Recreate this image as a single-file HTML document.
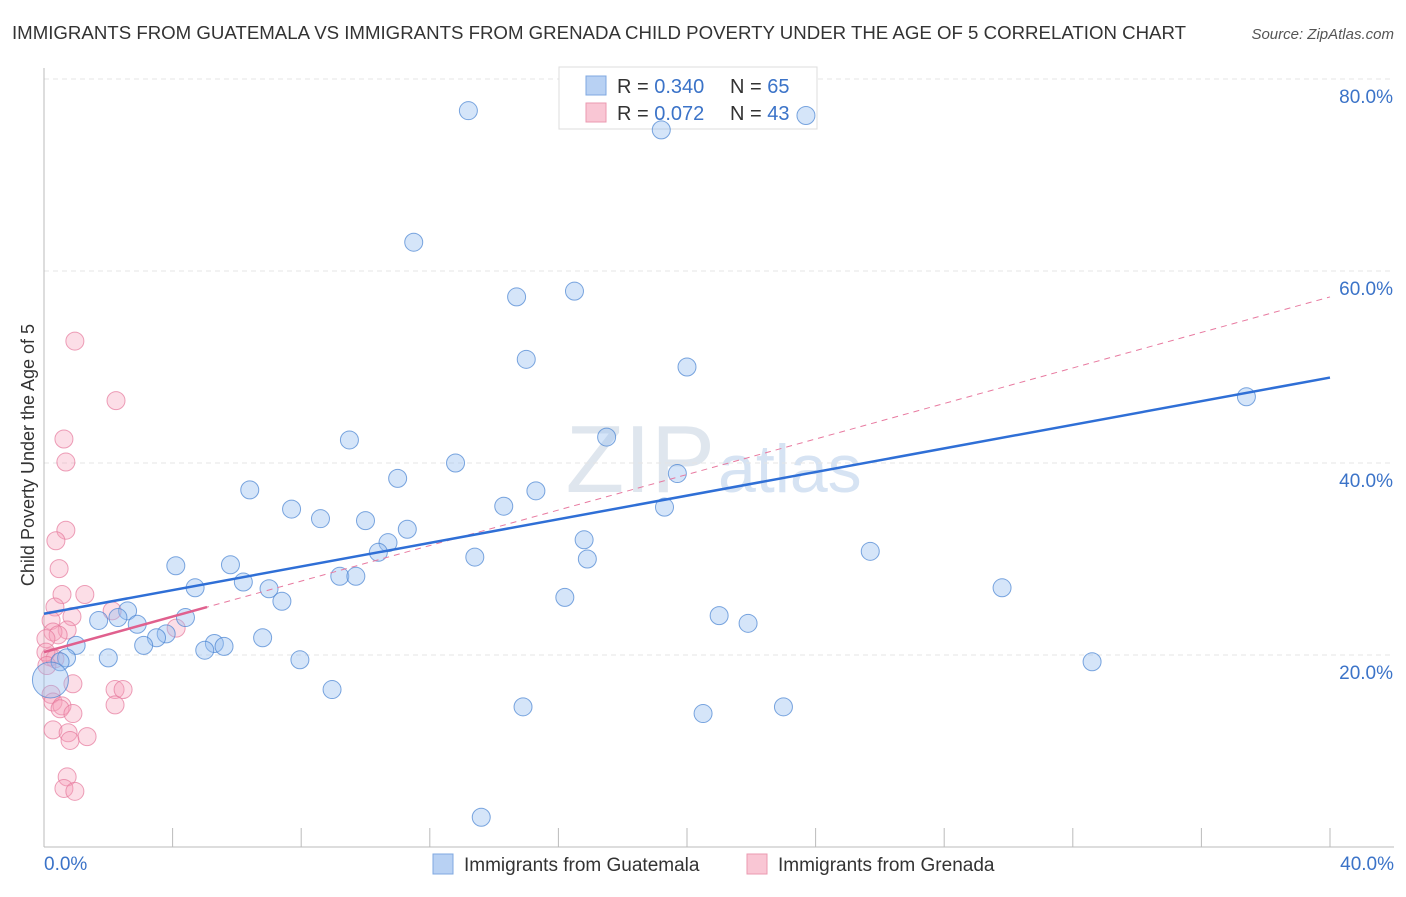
<!DOCTYPE html>
<html><head><meta charset="utf-8"><style>
body{margin:0;background:#fff;font-family:"Liberation Sans",sans-serif;}
svg text{font-family:"Liberation Sans",sans-serif;}
</style></head><body>
<svg id="c" width="1406" height="892" xmlns="http://www.w3.org/2000/svg">
<text x="12" y="39" font-size="18" fill="#333" textLength="1174" lengthAdjust="spacingAndGlyphs">IMMIGRANTS FROM GUATEMALA VS IMMIGRANTS FROM GRENADA CHILD POVERTY UNDER THE AGE OF 5 CORRELATION CHART</text>
<text x="1394" y="39" font-size="15" fill="#555" font-style="italic" text-anchor="end">Source: ZipAtlas.com</text>
<text x="34" y="455" font-size="18" fill="#333" text-anchor="middle" transform="rotate(-90 34 455)">Child Poverty Under the Age of 5</text>
<text x="715" y="492" font-size="96" fill="#dfe6ee" font-family="Liberation Serif" text-anchor="end">ZIP</text>
<text x="718" y="492" font-size="68" fill="#d6e3f3">atlas</text>
<g id="grid"></g><g id="axes"></g>
<g>
<rect x="559" y="67" width="258" height="62" fill="#fff" stroke="#ddd"/>
<rect x="586" y="76" width="20" height="19" fill="#b8d1f3" stroke="#7fa8e0"/>
<rect x="586" y="103" width="20" height="19" fill="#f9c6d4" stroke="#eb9ab0"/>
<text x="617" y="93" font-size="20" fill="#333">R = <tspan fill="#3b73c8">0.340</tspan></text>
<text x="730" y="93" font-size="20" fill="#333">N = <tspan fill="#3b73c8">65</tspan></text>
<text x="617" y="120" font-size="20" fill="#333">R = <tspan fill="#3b73c8">0.072</tspan></text>
<text x="730" y="120" font-size="20" fill="#333">N = <tspan fill="#3b73c8">43</tspan></text>
</g>
<g id="pts"></g><g id="lines"></g>
<g>
<rect x="433" y="854" width="20" height="20" fill="#b8d1f3" stroke="#7fa8e0"/>
<text x="464" y="871" font-size="19" fill="#333">Immigrants from Guatemala</text>
<rect x="747" y="854" width="20" height="20" fill="#f9c6d4" stroke="#eb9ab0"/>
<text x="778" y="871" font-size="19" fill="#333">Immigrants from Grenada</text>
</g>
</svg>
<script>
const xTicks=[0,4,8,12,16,20,24,28,32,36,40];
const yTicks=[20,40,60,80];
const blueX=[13.2,19.2,23.7,11.5,14.7,16.5,15.0,20.0,37.4,9.5,17.5,12.8,19.7,6.4,11.0,15.3,7.7,14.3,19.3,8.6,10.0,11.3,10.7,10.4,16.8,13.4,16.9,25.7,4.1,5.8,4.7,6.2,7.0,9.2,9.7,29.8,16.2,7.4,2.6,2.3,1.7,2.9,4.4,21.0,21.9,3.8,3.5,3.1,5.3,5.6,5.0,6.8,1.0,0.7,0.5,2.0,7.96,32.6,8.96,14.9,23.0,20.5,13.6,0.2];
const blueY=[76.7,74.7,76.2,63.0,57.3,57.9,50.8,50.0,46.9,42.4,42.7,40.0,38.9,37.2,38.4,37.1,35.2,35.5,35.4,34.2,34.0,33.1,31.7,30.7,32.0,30.2,30.0,30.8,29.3,29.4,27.0,27.6,26.9,28.2,28.2,27.0,26.0,25.6,24.6,23.9,23.6,23.2,23.9,24.1,23.3,22.2,21.8,21.0,21.2,20.9,20.5,21.8,21.0,19.7,19.3,19.7,19.5,19.3,16.4,14.6,14.6,13.9,3.1,17.4];
const blueR=[9,9,9,9,9,9,9,9,9,9,9,9,9,9,9,9,9,9,9,9,9,9,9,9,9,9,9,9,9,9,9,9,9,9,9,9,9,9,9,9,9,9,9,9,9,9,9,9,9,9,9,9,9,9,9,9,9,9,9,9,9,9,9,18];
const pinkX=[0.96,2.24,0.62,0.68,0.68,0.37,0.47,0.56,1.27,0.34,0.87,0.72,2.12,4.11,0.22,0.28,0.44,0.19,0.34,0.90,2.21,2.46,2.21,0.22,0.28,0.56,0.50,0.90,0.28,0.75,0.81,1.34,0.72,0.62,0.96,0.06,0.06,0.09];
const pinkY=[52.7,46.5,42.5,40.1,33.0,31.9,29.0,26.3,26.3,25.0,24.0,22.6,24.6,22.8,23.6,22.4,22.1,19.8,19.6,17.0,16.4,16.4,14.8,15.9,15.1,14.7,14.4,13.9,12.2,11.9,11.1,11.5,7.3,6.1,5.8,21.7,20.3,18.9];
const pinkR=pinkX.map(()=>9);
const blueFit=[24.3,48.9];
const pinkFit=[20.3,57.3]; const pinkSolidEnd=5.07;
const X0=44,X1=1330,Y0=847,PY=9.6;
const sx=v=>X0+(X1-X0)*v/40, sy=v=>Y0-v*PY;
const NS="http://www.w3.org/2000/svg";
function mk(p,t,a){const e=document.createElementNS(NS,t);for(const k in a)e.setAttribute(k,a[k]);document.getElementById(p).appendChild(e);return e;}
yTicks.forEach(t=>{
 const l=mk('grid','line',{x1:X0,x2:1394,y1:sy(t),y2:sy(t),stroke:'#e4e4e4','stroke-dasharray':'5,4'});
 
 
 const tx=mk('grid','text',{x:1393,y:sy(t)+24,'font-size':19,fill:'#3b73c8','text-anchor':'end'});tx.textContent=t.toFixed(1)+'%';
 
 
});
const ax=mk('axes','line',{x1:X0,x2:1394,y1:Y0,y2:Y0,stroke:'#bbb'});


const ay=mk('axes','line',{x1:X0,x2:X0,y1:68,y2:Y0,stroke:'#bbb'});


xTicks.forEach(t=>{
 const l=mk('axes','line',{x1:sx(t),x2:sx(t),y1:828,y2:Y0,stroke:'#bbb'});
 
 
});
[[0,'0.0%','start',44],[40,'40.0%','end',1394]].forEach(([v,s,a,x])=>{
 const t=mk('axes','text',{x:x,y:870,'font-size':19,fill:'#3b73c8','text-anchor':a});t.textContent=s;
 
 
});
pinkX.forEach((v,i)=>{
 const c=mk('pts','circle',{cx:sx(v),cy:sy(pinkY[i]),r:pinkR[i],fill:'rgba(245,160,185,0.35)',stroke:'rgba(230,120,155,0.7)','stroke-width':1});
 
 
});
blueX.forEach((v,i)=>{
 const c=mk('pts','circle',{cx:sx(v),cy:sy(blueY[i]),r:blueR[i],fill:'rgba(150,190,240,0.4)',stroke:'rgba(70,130,210,0.7)','stroke-width':1});
 
 
});
const pl=v=>pinkFit[0]+(pinkFit[1]-pinkFit[0])*v/40;
const pd=mk('lines','line',{x1:sx(0),y1:sy(pl(0)),x2:sx(40),y2:sy(pl(40)),stroke:'#e87aa0','stroke-width':1,'stroke-dasharray':'6,5'});


const bl=mk('lines','line',{x1:sx(0),y1:sy(blueFit[0]),x2:sx(40),y2:sy(blueFit[1]),stroke:'#2f6fd6','stroke-width':2.5});


const ps=mk('lines','line',{x1:sx(0),y1:sy(pl(0)),x2:sx(pinkSolidEnd),y2:sy(pl(pinkSolidEnd)),stroke:'#e0608e','stroke-width':2.5});


</script>
</body></html>
